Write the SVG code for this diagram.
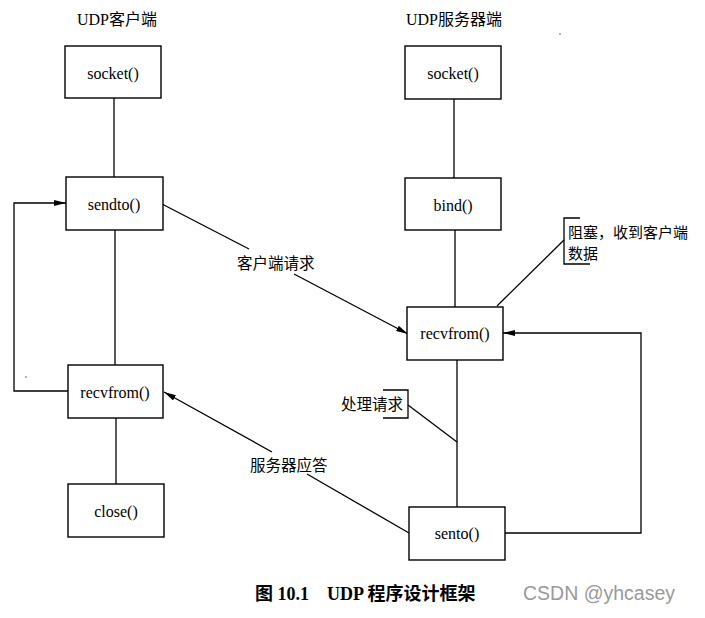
<svg xmlns="http://www.w3.org/2000/svg" width="705" height="618" viewBox="0 0 705 618">
<defs>
<style>
.box{fill:#fff;stroke:#000;stroke-width:1.4}
.fn{font-family:"Liberation Serif","Noto Sans CJK SC",serif;font-size:16px;fill:#000;text-anchor:middle;dominant-baseline:central}
.cn{font-family:"Noto Sans CJK SC","Liberation Sans",sans-serif;font-size:15.5px;fill:#000;dominant-baseline:central}
.cs{font-family:"Noto Sans CJK SC","Liberation Sans",sans-serif;font-size:15px;fill:#000;dominant-baseline:central}
.ttl{font-family:"Liberation Serif","Noto Sans CJK SC",serif;font-size:16px;fill:#000;dominant-baseline:central}
.cap{font-family:"Liberation Serif","Noto Sans CJK SC",serif;font-size:18px;font-weight:bold;fill:#000}
.ln{fill:none;stroke:#000;stroke-width:1.3}
</style>
<marker id="ah" viewBox="0 0 12 6" refX="12" refY="3" markerWidth="12" markerHeight="6" markerUnits="userSpaceOnUse" orient="auto">
<path d="M0,0 L12,3 L0,6 Z" fill="#000"/>
</marker>
</defs>
<rect width="705" height="618" fill="#fff"/>

<text class="ttl" x="77" y="19">UDP客户端</text>
<text class="ttl" x="406" y="19">UDP服务器端</text>

<g id="connectors">
<line class="ln" x1="114" y1="98" x2="114" y2="177"/>
<line class="ln" x1="115" y1="230" x2="115" y2="365"/>
<line class="ln" x1="116" y1="418" x2="116" y2="484"/>
<line class="ln" x1="454" y1="99" x2="454" y2="178"/>
<line class="ln" x1="455" y1="230" x2="455" y2="307"/>
<line class="ln" x1="457" y1="360" x2="457" y2="507"/>
<polyline class="ln" points="68,391 14,391 14,203 66,203" marker-end="url(#ah)"/>
<polyline class="ln" points="505,533 641,533 641,333 503,333" marker-end="url(#ah)"/>
<line class="ln" x1="162" y1="204" x2="249" y2="249"/>
<line class="ln" x1="294" y1="274" x2="408" y2="334" marker-end="url(#ah)"/>
<line class="ln" x1="409" y1="533" x2="307" y2="474"/>
<line class="ln" x1="272" y1="452" x2="164" y2="392" marker-end="url(#ah)"/>
<line class="ln" x1="564" y1="240" x2="497" y2="306"/>
<line class="ln" x1="408" y1="405" x2="457" y2="442"/>
</g>

<g id="c-socket"><rect class="box" x="65" y="46" width="96" height="52"/><text class="fn" x="113" y="73">socket()</text></g>
<g id="c-sendto"><rect class="box" x="66" y="177" width="97" height="53"/><text class="fn" x="114" y="204">sendto()</text></g>
<g id="c-recvfrom"><rect class="box" x="68" y="365" width="95" height="53"/><text class="fn" x="115" y="392">recvfrom()</text></g>
<g id="c-close"><rect class="box" x="68" y="484" width="96" height="53"/><text class="fn" x="116" y="511">close()</text></g>

<g id="s-socket"><rect class="box" x="405" y="46" width="96" height="53"/><text class="fn" x="453" y="73">socket()</text></g>
<g id="s-bind"><rect class="box" x="405" y="178" width="96" height="52"/><text class="fn" x="453" y="205">bind()</text></g>
<g id="s-recvfrom"><rect class="box" x="407" y="307" width="96" height="53"/><text class="fn" x="455" y="333">recvfrom()</text></g>
<g id="s-sento"><rect class="box" x="409" y="507" width="96" height="53"/><text class="fn" x="457" y="533">sento()</text></g>

<g id="label-request"><text class="cn" x="237" y="262">客户端请求</text></g>
<g id="label-reply"><text class="cn" x="250" y="464">服务器应答</text></g>

<g id="note-block">
<polyline class="ln" points="580,218 564,218 564,264 590,264" stroke-width="1.1"/>
<text class="cs" x="568" y="231">阻塞，收到客户端</text>
<text class="cs" x="568" y="252.5">数据</text>
</g>

<g id="note-process">
<polyline class="ln" points="383,390 408,390 408,418 383,418" stroke-width="1.1"/>
<text class="cn" x="341" y="403">处理请求</text>
</g>

<circle cx="26" cy="377" r="0.8" fill="#555"/>
<circle cx="560" cy="34" r="0.8" fill="#555"/>

<text class="cap" x="255" y="600">图 10.1</text>
<text class="cap" x="327" y="600">UDP 程序设计框架</text>
<text x="523" y="600" font-family="Liberation Sans,Arial,sans-serif" font-size="19.5" fill="#999">CSDN @yhcasey</text>
</svg>
